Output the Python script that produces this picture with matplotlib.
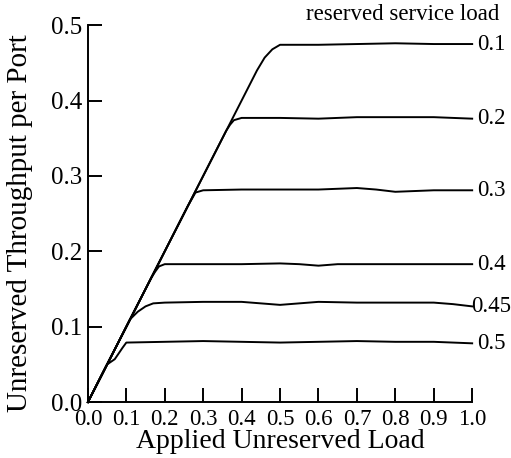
import matplotlib
matplotlib.use("Agg")
import matplotlib.pyplot as plt

plt.rcParams.update({
    'font.family': 'Liberation Serif',
    'mathtext.fontset': 'stix',
})

res_labels = ['0.1', '0.2', '0.3', '0.4', '0.45', '0.5']

x_01 = [0, 0.1, 0.2, 0.3, 0.4, 0.44, 0.46, 0.48, 0.5, 0.6, 0.7, 0.8, 0.9, 1.0]
y_01 = [0, 0.1, 0.2, 0.3, 0.4, 0.44, 0.457, 0.468, 0.474, 0.474, 0.475, 0.476, 0.475, 0.475]

x_02 = [0, 0.36, 0.37, 0.38, 0.4, 0.5, 0.6, 0.7, 0.8, 0.9, 1.0]
y_02 = [0, 0.36, 0.368, 0.374, 0.377, 0.377, 0.376, 0.378, 0.378, 0.378, 0.376]

x_03 = [0, 0.26, 0.27, 0.28, 0.3, 0.4, 0.5, 0.6, 0.7, 0.75, 0.8, 0.9, 1.0]
y_03 = [0, 0.26, 0.269, 0.278, 0.281, 0.282, 0.282, 0.282, 0.284, 0.282, 0.279, 0.281, 0.281]

x_04 = [0, 0.165, 0.175, 0.185, 0.2, 0.3, 0.4, 0.5, 0.55, 0.6, 0.65, 0.7, 0.8, 0.9, 1.0]
y_04 = [0, 0.165, 0.173, 0.18, 0.183, 0.183, 0.183, 0.184, 0.183, 0.181, 0.183, 0.183, 0.183, 0.183, 0.183]

x_045 = [0, 0.11, 0.13, 0.15, 0.17, 0.2, 0.3, 0.4, 0.45, 0.5, 0.6, 0.7, 0.8, 0.9, 0.95, 1.0]
y_045 = [0, 0.11, 0.12, 0.127, 0.131, 0.132, 0.133, 0.133, 0.131, 0.129, 0.133, 0.132, 0.132, 0.132, 0.13, 0.127]

x_05 = [0, 0.05, 0.07, 0.09, 0.1, 0.2, 0.3, 0.4, 0.5, 0.6, 0.7, 0.8, 0.9, 1.0]
y_05 = [0, 0.05, 0.057, 0.072, 0.079, 0.08, 0.081, 0.08, 0.079, 0.08, 0.081, 0.08, 0.08, 0.078]

series = [(x_01, y_01), (x_02, y_02), (x_03, y_03), (x_04, y_04), (x_045, y_045), (x_05, y_05)]

fig = plt.figure(figsize=(5.11, 4.58), dpi=100)
ax = fig.add_axes([0.172, 0.122, 0.752, 0.823])

for (xs, ys), lab in zip(series, res_labels):
    ax.plot(xs, ys, color='black', linewidth=1.4, clip_on=False)
    xoff = -0.003 if lab == '0.45' else 0.013
    ax.text(1.0 + xoff, ys[-1], lab, fontsize=16.5, ha='left', va='center',
            clip_on=False)

ax.text(0.82, 0.514, 'reserved service load', fontsize=16.5, ha='center',
        va='center')

ax.set_xlim(0, 1.0)
ax.set_ylim(0, 0.5)
ax.set_xticks([i / 10 for i in range(11)])
ax.set_xticklabels(['%.1f' % (i / 10) for i in range(11)])
ax.set_yticks([0, 0.1, 0.2, 0.3, 0.4, 0.5])
ax.set_yticklabels(['0.0', '0.1', '0.2', '0.3', '0.4', '0.5'])
ax.tick_params(direction='in', length=10, width=1.4, labelsize=18)
ax.tick_params(axis='y', pad=4)
ax.tick_params(axis='x', pad=5, labelsize=16.5)
ax.spines['top'].set_visible(False)
ax.spines['right'].set_visible(False)
ax.spines['left'].set_linewidth(1.4)
ax.spines['bottom'].set_linewidth(1.4)

ax.set_xlabel('Applied Unreserved Load', fontsize=20, labelpad=-1)
ax.set_ylabel('Unreserved Throughput per Port', fontsize=21)
ax.yaxis.set_label_coords(-0.143, 0.474)

plt.savefig('out.png', dpi=100)
